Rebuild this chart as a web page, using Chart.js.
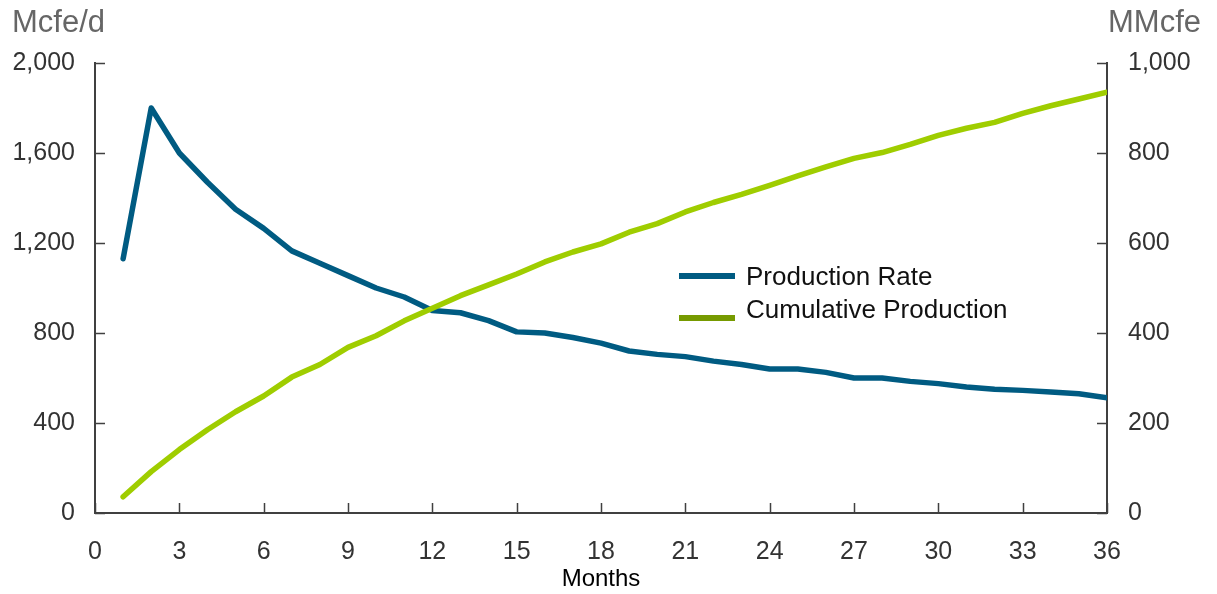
<!DOCTYPE html>
<html>
<head>
<meta charset="utf-8">
<script src="https://cdn.jsdelivr.net/npm/chart.js@4.4.1/dist/chart.umd.min.js"></script>
<style>
  html, body { margin: 0; padding: 0; background: #fff; }
  #wrap { width: 1217px; height: 594px; position: relative; }
</style>
</head>
<body>
<div id="wrap"><canvas id="prod-chart"></canvas></div>
<script>
// Well production: monthly rate vs cumulative volume, first 36 months

const months = [1, 2, 3, 4, 5, 6, 7, 8, 9, 10, 11, 12, 13, 14, 15, 16, 17, 18,
  19, 20, 21, 22, 23, 24, 25, 26, 27, 28, 29, 30, 31, 32, 33, 34, 35, 36];

// Mcfe/d (left axis)
const productionRate = [1130, 1800, 1600, 1470, 1350, 1265, 1165, 1110, 1055, 1000, 960, 900,
  890, 855, 805, 800, 780, 755, 720, 705, 695, 675, 660, 640,
  640, 625, 600, 600, 585, 575, 560, 550, 545, 538, 530, 512];

// MMcfe (right axis)
const cumulativeProduction = [36, 92, 141, 185, 225, 260, 302, 330, 368, 394, 427, 455,
  483, 507, 531, 558, 580, 598, 624, 643, 669, 690, 708, 728,
  749, 769, 788, 801, 819, 839, 855, 868, 888, 905, 920, 935];

const leftUnit = 'Mcfe/d';
const rightUnit = 'MMcfe';
const xTitle = 'Months';

const BLUE = '#005b82';
const GREEN = '#9fcd00';
const GREEN_KEY = '#769a00';
const AXIS = '#404040';
const FONT = '"Liberation Sans", Arial, sans-serif';

// inward tick marks on all three axes
const tickMarks = {
  id: 'tickMarks',
  afterDatasetsDraw(chart) {
    const { ctx, chartArea, scales } = chart;
    ctx.save();
    ctx.strokeStyle = AXIS;
    ctx.lineWidth = 1.5;
    ctx.beginPath();
    scales.x.ticks.forEach(t => {
      const px = Math.round(scales.x.getPixelForValue(t.value)) + 0.5;
      ctx.moveTo(px, chartArea.bottom);
      ctx.lineTo(px, chartArea.bottom - 10);
    });
    scales.y.ticks.forEach(t => {
      const py = Math.round(scales.y.getPixelForValue(t.value)) + 0.5;
      ctx.moveTo(chartArea.left, py);
      ctx.lineTo(chartArea.left + 10, py);
    });
    scales.y1.ticks.forEach(t => {
      const py = Math.round(scales.y1.getPixelForValue(t.value)) + 0.5;
      ctx.moveTo(chartArea.right, py);
      ctx.lineTo(chartArea.right - 10, py);
    });
    ctx.stroke();
    ctx.restore();
  }
};

// unit labels above the two value axes
const unitLabels = {
  id: 'unitLabels',
  afterDraw(chart) {
    const { ctx } = chart;
    ctx.save();
    ctx.font = '31px ' + FONT;
    ctx.fillStyle = '#666';
    ctx.textBaseline = 'alphabetic';
    ctx.textAlign = 'left';
    ctx.fillText(leftUnit, 12, 32);
    ctx.textAlign = 'right';
    ctx.fillText(rightUnit, 1201, 32);
    ctx.restore();
  }
};

// legend floating inside the plot
const floatLegend = {
  id: 'floatLegend',
  afterDraw(chart) {
    const { ctx, chartArea } = chart;
    const x0 = chartArea.left + 584;
    const rows = [
      { lineY: 276, textY: 278 },
      { lineY: 318, textY: 311 }
    ];
    ctx.save();
    ctx.font = '26px ' + FONT;
    ctx.textBaseline = 'middle';
    ctx.textAlign = 'left';
    chart.data.datasets.forEach((ds, i) => {
      const r = rows[i];
      ctx.fillStyle = ds.legendColor || ds.borderColor;
      ctx.fillRect(x0, r.lineY - 3, 56, 6);
      ctx.fillStyle = '#111';
      ctx.fillText(ds.label, x0 + 67, r.textY);
    });
    ctx.restore();
  }
};

const ctx = document.getElementById('prod-chart');

new Chart(ctx, {
  type: 'line',
  data: {
    datasets: [{
      label: 'Production Rate',
      data: months.map((m, i) => ({ x: m, y: productionRate[i] })),
      yAxisID: 'y',
      borderColor: BLUE,
      legendColor: BLUE,
      borderWidth: 5.5,
      pointRadius: 0,
      tension: 0,
      borderCapStyle: 'round',
      borderJoinStyle: 'round',
      order: 1
    }, {
      label: 'Cumulative Production',
      data: months.map((m, i) => ({ x: m, y: cumulativeProduction[i] })),
      yAxisID: 'y1',
      borderColor: GREEN,
      legendColor: GREEN_KEY,
      borderWidth: 5.5,
      pointRadius: 0,
      tension: 0,
      borderCapStyle: 'round',
      borderJoinStyle: 'round',
      order: 0
    }]
  },
  options: {
    responsive: true,
    maintainAspectRatio: false,
    animation: false,
    layout: { padding: { top: 63, left: 0, right: 0, bottom: 0 } },
    plugins: {
      legend: { display: false },
      tooltip: { enabled: false }
    },
    scales: {
      x: {
        type: 'linear',
        min: 0,
        max: 36,
        afterFit: s => { s.height = 81; },
        grid: { display: false },
        border: { display: true, color: AXIS, width: 2 },
        ticks: {
          stepSize: 3,
          color: '#333',
          padding: 16,
          maxRotation: 0,
          font: { family: FONT, size: 25 }
        },
        title: {
          display: true,
          text: xTitle,
          color: '#000',
          padding: { top: 0, bottom: 0 },
          font: { family: FONT, size: 24 }
        }
      },
      y: {
        position: 'left',
        min: 0,
        max: 2000,
        afterFit: s => { s.width = 95; },
        grid: { display: false },
        border: { display: true, color: AXIS, width: 2 },
        ticks: {
          stepSize: 400,
          color: '#333',
          padding: 12,
          font: { family: FONT, size: 25 },
          callback: v => v.toLocaleString('en-US')
        }
      },
      y1: {
        position: 'right',
        min: 0,
        max: 1000,
        afterFit: s => { s.width = 110; },
        grid: { display: false },
        border: { display: true, color: AXIS, width: 2 },
        ticks: {
          stepSize: 200,
          color: '#333',
          padding: 13,
          font: { family: FONT, size: 25 },
          callback: v => v.toLocaleString('en-US')
        }
      }
    }
  },
  plugins: [tickMarks, unitLabels, floatLegend]
});
</script>
</body>
</html>
